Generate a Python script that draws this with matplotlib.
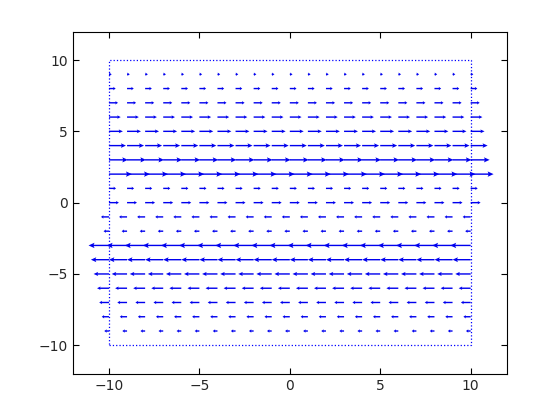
import numpy as np
import matplotlib
matplotlib.use('Agg')
import matplotlib.pyplot as plt

# grid of the field
xs = np.arange(-10, 11)
ys = np.arange(-10, 11)

# horizontal component per row (y = -10 .. 10), as drawn on the chart
u_rows = [0.0, -0.26, -0.40, -0.54, -0.66, -0.85, -1.0, -1.13, -0.30, -0.44,
          0.55, 0.39, 1.27, 1.05, 0.94, 0.77, 0.65, 0.50, 0.37, 0.15, 0.0]

ticks = [-10, -5, 0, 5, 10]

fig = plt.figure(figsize=(5.6, 4.2), dpi=100)
ax = fig.add_axes([0.13, 0.11, 0.775, 0.815])

px_per_unit = 0.775 * 560 / 24.0
shaft_px = 1.4
for y, u in zip(ys, u_rows):
    if u == 0:
        continue
    # octave-like heads: size follows the arrow length
    L = abs(u) * px_per_unit
    hl_px = min(max(0.3 * L, 2.5), 6.0)
    hw_px = max(0.9 * hl_px, 3.5)
    ax.quiver(xs, np.full(len(xs), y), np.full(len(xs), u), np.zeros(len(xs)),
              color='#0000ee', angles='xy', scale_units='xy', scale=1,
              width=shaft_px / (0.775 * 560), headlength=hl_px / shaft_px,
              headaxislength=0.85 * hl_px / shaft_px, headwidth=hw_px / shaft_px,
              minshaft=0.5, minlength=0)

# dotted border of the grid
ax.plot([-10, 10, 10, -10, -10], [-10, -10, 10, 10, -10], ':', color='#0000ff', lw=0.9)

ax.set_xlim(-12, 12)
ax.set_ylim(-12, 12)
ax.set_xticks(ticks)
ax.set_yticks(ticks)
ax.tick_params(direction='in', top=True, right=True, length=4, labelsize=10,
               labelcolor='#262626')
for s in ax.spines.values():
    s.set_linewidth(0.8)

fig.savefig('out.png', dpi=100)
